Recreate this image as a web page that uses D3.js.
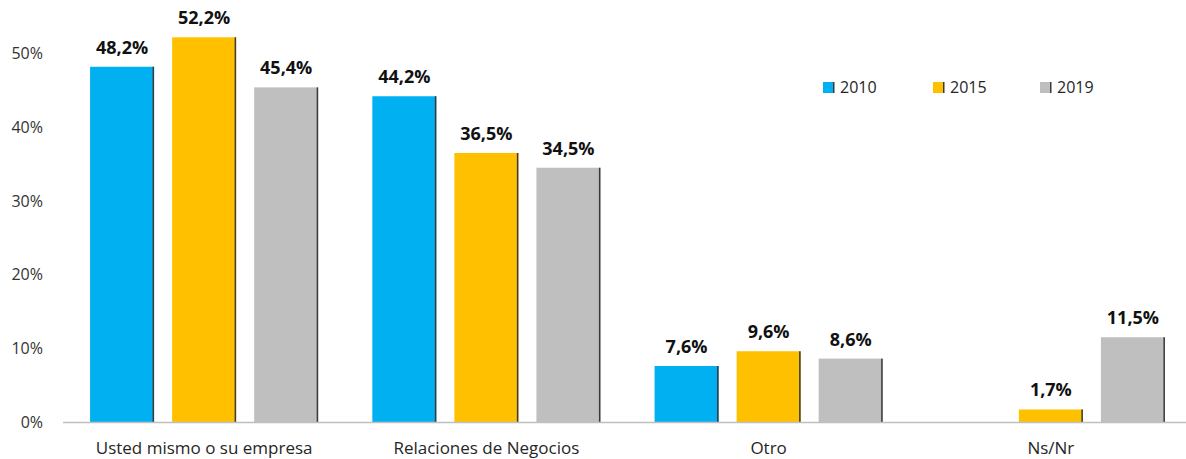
<!DOCTYPE html>
<html>
<head>
<meta charset="utf-8">
<script src="https://cdn.jsdelivr.net/npm/d3@7"></script>
<style>
  body { margin: 0; background: #fff; }
  svg { display: block; font-family: "Open Sans", sans-serif; }
</style>
</head>
<body>
<div id="chart"></div>
<script>
// data
var categories = ["Usted mismo o su empresa", "Relaciones de Negocios", "Otro", "Ns/Nr"];
var years = ["2010", "2015", "2019"];
var v2010 = [48.2, 44.2, 7.6, null];
var v2015 = [52.2, 36.5, 9.6, 1.7];
var v2019 = [45.4, 34.5, 8.6, 11.5];
var yTicks = [0, 10, 20, 30, 40, 50];

var colors = {"2010": "#00B0F0", "2015": "#FFC000", "2019": "#BFBFBF"};
var seriesValues = {"2010": v2010, "2015": v2015, "2019": v2019};

var width = 1186, height = 459;

var svg = d3.select('#chart').append('svg')
  .attr('width', width)
  .attr('height', height);

var x0 = d3.scaleBand()
  .domain(categories)
  .range([63, 1192])
  .padding(0);

var x1 = d3.scaleBand()
  .domain(years)
  .range([0, x0.bandwidth()])
  .paddingInner(0.22)
  .paddingOuter(0.33);

var y = d3.scaleLinear()
  .domain([0, 50])
  .range([422, 53.5]);

// y tick labels (no axis line)
svg.append('g')
  .selectAll('text')
  .data(yTicks)
  .join('text')
  .attr('x', 43)
  .attr('y', function(d) { return y(d); })
  .attr('dy', '0.35em')
  .attr('text-anchor', 'end')
  .attr('font-size', '16px')
  .attr('fill', '#333')
  .text(function(d) { return d + '%'; });

// flatten to bar records
var bars = [];
categories.forEach(function(c, i) {
  years.forEach(function(yr) {
    var v = seriesValues[yr][i];
    if (v != null) bars.push({cat: c, year: yr, value: v});
  });
});

var g = svg.append('g');

g.selectAll('rect.bar')
  .data(bars)
  .join('rect')
  .attr('class', 'bar')
  .attr('x', function(d) { return x0(d.cat) + x1(d.year); })
  .attr('y', function(d) { return y(d.value); })
  .attr('width', x1.bandwidth())
  .attr('height', function(d) { return y(0) - y(d.value); })
  .attr('fill', function(d) { return colors[d.year]; });

// thin dark edge on the right side of each bar
g.selectAll('rect.edge')
  .data(bars)
  .join('rect')
  .attr('class', 'edge')
  .attr('x', function(d) { return x0(d.cat) + x1(d.year) + x1.bandwidth() - 1.5; })
  .attr('y', function(d) { return y(d.value); })
  .attr('width', 1.5)
  .attr('height', function(d) { return y(0) - y(d.value); })
  .attr('fill', '#3a3a3a');

// baseline
svg.append('line')
  .attr('x1', 63).attr('x2', width)
  .attr('y1', y(0) + 0.5).attr('y2', y(0) + 0.5)
  .attr('stroke', '#bfbfbf')
  .attr('stroke-width', 1.5);

// value labels
g.selectAll('text.val')
  .data(bars)
  .join('text')
  .attr('class', 'val')
  .attr('x', function(d) { return x0(d.cat) + x1(d.year) + x1.bandwidth() / 2; })
  .attr('y', function(d) { return y(d.value) - 13; })
  .attr('text-anchor', 'middle')
  .attr('font-size', '18px')
  .attr('font-weight', 'bold')
  .attr('fill', '#111')
  .text(function(d) { return d.value.toFixed(1).replace('.', ',') + '%'; });

// category labels
svg.append('g')
  .selectAll('text')
  .data(categories)
  .join('text')
  .attr('x', function(d) { return x0(d) + x0.bandwidth() / 2; })
  .attr('y', 454)
  .attr('text-anchor', 'middle')
  .attr('font-size', '17px')
  .attr('fill', '#262626')
  .text(function(d) { return d; });

// legend
var legendX = [823, 933, 1040];
var legend = svg.append('g')
  .selectAll('g')
  .data(years)
  .join('g')
  .attr('transform', function(d, i) { return 'translate(' + legendX[i] + ',82)'; });

legend.append('rect')
  .attr('width', 11).attr('height', 11)
  .attr('fill', function(d) { return colors[d]; });

legend.append('rect')
  .attr('x', 10).attr('width', 1.5).attr('height', 11)
  .attr('fill', '#3a3a3a');

legend.append('text')
  .attr('x', 17)
  .attr('y', 10.5)
  .attr('font-size', '16px')
  .attr('fill', '#262626')
  .text(function(d) { return d; });
</script>
</body>
</html>
